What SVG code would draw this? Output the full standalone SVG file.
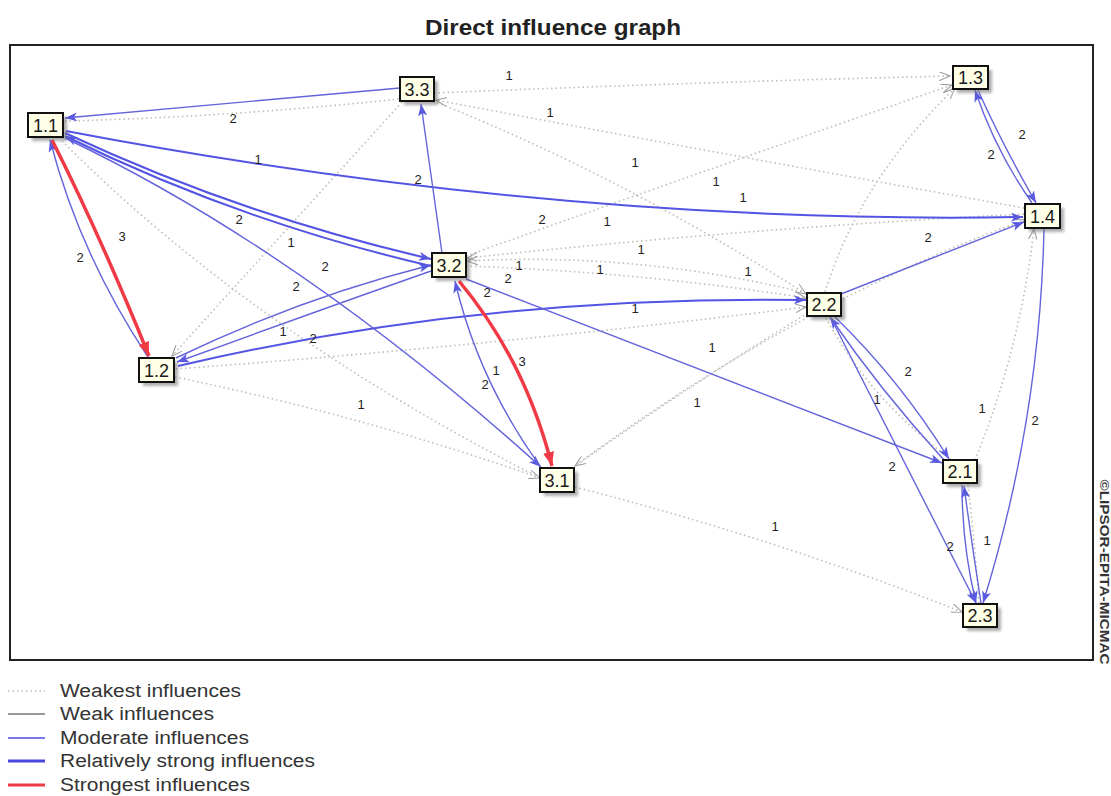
<svg xmlns="http://www.w3.org/2000/svg" width="1111" height="796" viewBox="0 0 1111 796">
<style>
.dot{stroke:#bdbdb6;stroke-width:1.6;stroke-dasharray:1.5 3;fill:none}
.mod{stroke:#6464dc;stroke-width:1.4;fill:none}
.strong{stroke:#5454e4;stroke-width:2;fill:none}
.red{stroke:#f03a46;stroke-width:3.5;fill:none}
.box{fill:#ffffe8;stroke:#111;stroke-width:2}
.sh{fill:#6a6a6a;opacity:.55}
.nl{font-family:"Liberation Sans",Arial,sans-serif;font-size:18px;fill:#1a1a1a;text-anchor:middle}
.el{font-family:"Liberation Sans",Arial,sans-serif;font-size:13px;fill:#222;text-anchor:middle}
.lg{font-family:"Liberation Sans",Arial,sans-serif;font-size:18px;fill:#333}
</style>
<defs>
<filter id="blur" x="-20%" y="-20%" width="140%" height="140%"><feGaussianBlur stdDeviation="1.5"/></filter>
<marker id="ab" markerUnits="userSpaceOnUse" markerWidth="13" markerHeight="9" refX="12" refY="4.5" orient="auto"><path d="M0,0 L12,4.5 L0,9 L3,4.5 z" fill="#5a5ae0"/></marker>
<marker id="ar" markerUnits="userSpaceOnUse" markerWidth="15" markerHeight="11" refX="14" refY="5.5" orient="auto"><path d="M0,0 L14,5.5 L0,11 z" fill="#f03a46"/></marker>
<marker id="ag" markerUnits="userSpaceOnUse" markerWidth="12" markerHeight="9" refX="11" refY="4.5" orient="auto"><path d="M0,0 L11,4.5 L0,9" fill="none" stroke="#999" stroke-width="1"/></marker>
</defs>
<rect x="0" y="0" width="1111" height="796" fill="#fff"/>
<text x="553" y="35" font-family="'Liberation Sans',Arial,sans-serif" font-size="22" font-weight="bold" fill="#222" text-anchor="middle" textLength="256" lengthAdjust="spacingAndGlyphs">Direct influence graph</text>
<rect x="10" y="45" width="1083" height="615" fill="none" stroke="#222" stroke-width="2"/>
<text transform="translate(1100,572) rotate(90)" font-family="'Liberation Sans',Arial,sans-serif" font-size="13" font-weight="bold" fill="#333" text-anchor="middle" textLength="185" lengthAdjust="spacingAndGlyphs">©LIPSOR-EPITA-MICMAC</text>

<g id="connectors">
<path class="dot" d="M434,93 Q700,82 950,76" marker-end="url(#ag)"/>
<path class="dot" d="M65,121 Q230,117 399,99"/>
<path class="dot" d="M1024,208 Q700,150 436,100" marker-end="url(#ag)"/>
<path class="dot" d="M466,256 Q720,165 952,85" marker-end="url(#ag)"/>
<path class="dot" d="M825,292 Q860,180 955,88" marker-end="url(#ag)"/>
<path class="dot" d="M1024,214 Q750,228 467,258" marker-end="url(#ag)"/>
<path class="dot" d="M466,266 Q640,272 806,298" marker-end="url(#ag)"/>
<path class="dot" d="M806,293 Q640,252 467,261" marker-end="url(#ag)"/>
<path class="dot" d="M808,313 Q690,385 575,466" marker-end="url(#ag)"/>
<path class="dot" d="M175,377 Q360,415 540,478" marker-end="url(#ag)"/>
<path class="dot" d="M176,369 Q500,345 806,307" marker-end="url(#ag)"/>
<path class="dot" d="M575,487 Q780,540 962,612" marker-end="url(#ag)"/>
<path class="dot" d="M968,485 Q975,545 979,603"/>
<path class="dot" d="M826,318 Q870,400 952,460"/>
<path class="dot" d="M402,102 L172,356" marker-end="url(#ag)"/>
<path class="dot" d="M433,101 Q620,175 806,294" marker-end="url(#ag)"/>
<path class="dot" d="M572,468 Q800,300 1025,220" marker-end="url(#ag)"/>
<path class="dot" d="M975,460 Q1020,350 1034,229" marker-end="url(#ag)"/>
<path class="dot" d="M62,141 Q250,330 540,478"/>

<path class="mod" d="M400,88 L65,118" marker-end="url(#ab)"/>
<path class="strong" d="M66,131 Q560,225 1023,217" marker-end="url(#ab)"/>
<path class="mod" d="M148,357 Q80,255 50,140" marker-end="url(#ab)"/>
<path class="strong" d="M65,133 Q240,215 431,259" marker-end="url(#ab)"/>
<path class="strong" d="M431,266 Q240,222 65,136" marker-end="url(#ab)"/>
<path class="mod" d="M65,138 Q300,250 541,467" marker-end="url(#ab)"/>
<path class="mod" d="M176,358 Q300,298 431,265" marker-end="url(#ab)"/>
<path class="mod" d="M431,271 Q320,310 177,362" marker-end="url(#ab)"/>
<path class="strong" d="M178,366 Q480,295 806,300" marker-end="url(#ab)"/>
<path class="mod" d="M442,253 L421,104" marker-end="url(#ab)"/>
<path class="mod" d="M540,466 Q478,380 455,281" marker-end="url(#ab)"/>
<path class="mod" d="M466,279 L942,463" marker-end="url(#ab)"/>
<path class="mod" d="M841,294 L1024,222" marker-end="url(#ab)"/>
<path class="mod" d="M978,90 Q1000,140 1036,203" marker-end="url(#ab)"/>
<path class="mod" d="M1032,203 Q995,150 975,90" marker-end="url(#ab)"/>
<path class="mod" d="M1044,228 Q1040,420 983,603" marker-end="url(#ab)"/>
<path class="mod" d="M834,316 Q900,380 949,459" marker-end="url(#ab)"/>
<path class="mod" d="M944,460 Q880,390 830,317" marker-end="url(#ab)"/>
<path class="mod" d="M831,318 L976,603" marker-end="url(#ab)"/>
<path class="mod" d="M962,485 Q962,545 976,603" marker-end="url(#ab)"/>
<path class="mod" d="M981,603 Q972,545 964,486" marker-end="url(#ab)"/>
<path class="red" d="M52,140 Q100,235 149,356" marker-end="url(#ar)"/>
<path class="red" d="M459,281 Q525,360 552,466" marker-end="url(#ar)"/>

<g id="edge-labels">
<text class="el" x="509" y="80">1</text>
<text class="el" x="550" y="117">1</text>
<text class="el" x="233" y="123">2</text>
<text class="el" x="258" y="164">1</text>
<text class="el" x="418" y="184">2</text>
<text class="el" x="635" y="167">1</text>
<text class="el" x="716" y="186">1</text>
<text class="el" x="743" y="202">1</text>
<text class="el" x="1022" y="139">2</text>
<text class="el" x="991" y="159">2</text>
<text class="el" x="122" y="241">3</text>
<text class="el" x="239" y="224">2</text>
<text class="el" x="291" y="247">1</text>
<text class="el" x="542" y="224">2</text>
<text class="el" x="607" y="226">1</text>
<text class="el" x="928" y="242">2</text>
<text class="el" x="80" y="262">2</text>
<text class="el" x="325" y="271">2</text>
<text class="el" x="641" y="254">1</text>
<text class="el" x="600" y="274">1</text>
<text class="el" x="748" y="276">1</text>
<text class="el" x="508" y="283">2</text>
<text class="el" x="519" y="270">1</text>
<text class="el" x="487" y="297">2</text>
<text class="el" x="296" y="291">2</text>
<text class="el" x="283" y="336">1</text>
<text class="el" x="313" y="343">2</text>
<text class="el" x="635" y="313">1</text>
<text class="el" x="712" y="352">1</text>
<text class="el" x="522" y="366">3</text>
<text class="el" x="496" y="375">1</text>
<text class="el" x="485" y="389">2</text>
<text class="el" x="908" y="376">2</text>
<text class="el" x="361" y="409">1</text>
<text class="el" x="697" y="407">1</text>
<text class="el" x="877" y="404">1</text>
<text class="el" x="982" y="413">1</text>
<text class="el" x="1035" y="425">2</text>
<text class="el" x="892" y="471">2</text>
<text class="el" x="775" y="531">1</text>
<text class="el" x="950" y="551">2</text>
<text class="el" x="987" y="545">1</text>
</g>
</g>

<g id="n1_1"><rect class="sh" x="32" y="117" width="35" height="24" filter="url(#blur)"/><rect class="box" x="28" y="113" width="35" height="24"/><text class="nl" x="45.5" y="131.5">1.1</text></g>
<g id="n3_3"><rect class="sh" x="404" y="81" width="34" height="24" filter="url(#blur)"/><rect class="box" x="400" y="77" width="34" height="24"/><text class="nl" x="417" y="95.5">3.3</text></g>
<g id="n1_3"><rect class="sh" x="957" y="70" width="35" height="23" filter="url(#blur)"/><rect class="box" x="953" y="66" width="35" height="23"/><text class="nl" x="970.5" y="84">1.3</text></g>
<g id="n1_4"><rect class="sh" x="1029" y="208" width="35" height="24" filter="url(#blur)"/><rect class="box" x="1025" y="204" width="35" height="24"/><text class="nl" x="1042.5" y="222.5">1.4</text></g>
<g id="n1_2"><rect class="sh" x="143" y="362" width="35" height="24" filter="url(#blur)"/><rect class="box" x="139" y="358" width="35" height="24"/><text class="nl" x="156.5" y="376.5">1.2</text></g>
<g id="n3_2"><rect class="sh" x="436" y="257" width="34" height="24" filter="url(#blur)"/><rect class="box" x="432" y="253" width="34" height="24"/><text class="nl" x="449" y="271.5">3.2</text></g>
<g id="n2_2"><rect class="sh" x="811" y="297" width="34" height="23" filter="url(#blur)"/><rect class="box" x="807" y="293" width="34" height="23"/><text class="nl" x="824" y="311">2.2</text></g>
<g id="n2_1"><rect class="sh" x="947" y="464" width="34" height="23" filter="url(#blur)"/><rect class="box" x="943" y="460" width="34" height="23"/><text class="nl" x="960" y="478">2.1</text></g>
<g id="n3_1"><rect class="sh" x="544" y="472" width="34" height="24" filter="url(#blur)"/><rect class="box" x="540" y="468" width="34" height="24"/><text class="nl" x="557" y="486.5">3.1</text></g>
<g id="n2_3"><rect class="sh" x="967" y="608" width="34" height="23" filter="url(#blur)"/><rect class="box" x="963" y="604" width="34" height="23"/><text class="nl" x="980" y="622">2.3</text></g>

<g id="legend">
<line x1="8" y1="691" x2="45" y2="691" class="dot"/>
<line x1="8" y1="714" x2="45" y2="714" stroke="#777" stroke-width="1.3"/>
<line x1="8" y1="738" x2="45" y2="738" stroke="#4a4ae0" stroke-width="1.3"/>
<line x1="8" y1="761" x2="45" y2="761" stroke="#4848e0" stroke-width="3"/>
<line x1="8" y1="785" x2="45" y2="785" stroke="#f03a46" stroke-width="3"/>
<text class="lg" x="60" y="697" textLength="181" lengthAdjust="spacingAndGlyphs">Weakest influences</text>
<text class="lg" x="60" y="720" textLength="154" lengthAdjust="spacingAndGlyphs">Weak influences</text>
<text class="lg" x="60" y="744" textLength="189" lengthAdjust="spacingAndGlyphs">Moderate influences</text>
<text class="lg" x="60" y="767" textLength="255" lengthAdjust="spacingAndGlyphs">Relatively strong influences</text>
<text class="lg" x="60" y="791" textLength="190" lengthAdjust="spacingAndGlyphs">Strongest influences</text>
</g>
</svg>
